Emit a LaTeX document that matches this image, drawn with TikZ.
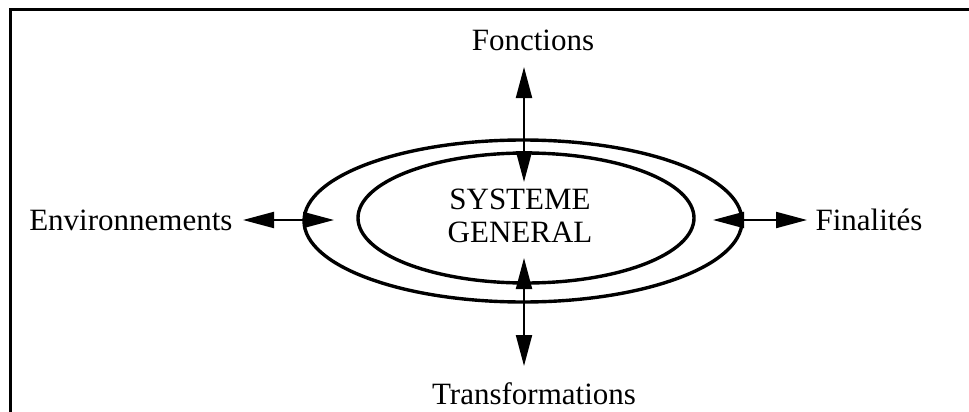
\documentclass[tikz,border=0pt]{standalone}
\usepackage{fontspec}
\setmainfont{Liberation Serif}
\usetikzlibrary{arrows.meta,shapes.geometric}
\begin{document}
\begin{tikzpicture}[x=1pt, y=-1pt, every node/.style={font=\fontsize{31}{32.5}\selectfont},
  dbl/.style={{Triangle[length=31pt,width=16pt]}-{Triangle[length=31pt,width=16pt]}, line width=2pt},
  ring/.style={ellipse, draw, line width=3.4pt, inner sep=0pt}]
\useasboundingbox (0,0) rectangle (969,412);
% open frame
\draw[line width=3pt] (10,412) -- (10,10) -- (969,10);
% rings
\node[ring, minimum width=438, minimum height=162] (outer) at (523,221) {};
\node[ring, minimum width=336, minimum height=130] (inner) at (526,218) {};
\node[align=center] (sys) at (520,216) {SYSTEME\\GENERAL};
% labels
\node (fonc) at (533,40) {Fonctions};
\node[inner sep=1pt] (trans) at (534,394) {Transformations};
\node[anchor=east] (env) at (236,220) {Environnements};
\node[anchor=west] (fin) at (812,220) {Finalités};
% arrow ends
\coordinate (fonc-a) at (524,67);
\coordinate (fonc-b) at (524,182);
\coordinate (trans-a) at (524,366);
\coordinate (trans-b) at (524,258);
\coordinate (env-a) at (243,220);
\coordinate (env-b) at (334,220);
\coordinate (fin-a) at (807,220);
\coordinate (fin-b) at (713,220);
% double arrows
\draw[dbl] (fonc-a) -- (fonc-b);
\draw[dbl] (trans-a) -- (trans-b);
\draw[dbl] (env-a) -- (env-b);
\draw[dbl] (fin-a) -- (fin-b);
\end{tikzpicture}
\end{document}
